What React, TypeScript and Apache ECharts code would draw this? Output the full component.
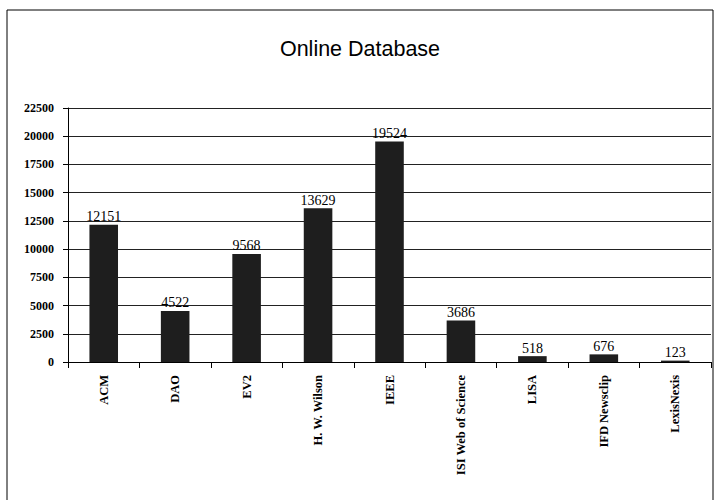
import React, { useEffect, useRef } from "react";
import * as echarts from "echarts";

const categories = ["ACM", "DAO", "EV2", "H. W. Wilson", "IEEE", "ISI Web of Science", "LISA", "IFD Newsclip", "LexisNexis"];
const values = [12151, 4522, 9568, 13629, 19524, 3686, 518, 676, 123];
const titleText = "Online Database";

export default function App() {
  const ref = useRef<HTMLDivElement>(null);
  useEffect(() => {
    const chart = echarts.init(ref.current!, null, { renderer: "svg" });
    chart.setOption({
      animation: false,
      backgroundColor: "#ffffff",
      title: {
        text: titleText,
        left: "center",
        top: 33,
        textStyle: { fontFamily: "Liberation Sans, Arial", fontWeight: "normal", fontSize: 21.5, color: "#000" },
      },
      graphic: [
        {
          type: "rect",
          shape: { x: 7, y: 10, width: 706, height: 500 },
          style: { fill: "none", stroke: "#000", lineWidth: 1 },
          silent: true,
        },
      ],
      grid: { left: 68, right: 9, top: 108, bottom: 138, containLabel: false, show: false },
      xAxis: {
        type: "category",
        data: categories,
        axisLine: { show: true, lineStyle: { color: "#000", width: 1 } },
        axisTick: { show: true, alignWithLabel: false, length: 6, lineStyle: { color: "#000" } },
        axisLabel: {
          rotate: 90,
          interval: 0,
          margin: 13,
          fontFamily: "Liberation Serif, Times New Roman",
          fontWeight: "bold",
          fontSize: 12.5,
          color: "#000",
        },
      },
      yAxis: {
        type: "value",
        min: 0,
        max: 22500,
        interval: 2500,
        axisLine: { show: true, lineStyle: { color: "#000", width: 1 } },
        axisTick: { show: true, length: 5, lineStyle: { color: "#000" } },
        axisLabel: {
          margin: 14,
          formatter: (v: number) => String(v),
          fontFamily: "Liberation Serif, Times New Roman",
          fontWeight: "bold",
          fontSize: 12,
          color: "#000",
        },
        splitLine: { show: true, lineStyle: { color: "#222", width: 1 } },
      },
      series: [
        {
          type: "bar",
          data: values,
          barWidth: "40%",
          itemStyle: { color: "#1e1e1e" },
          label: {
            show: true,
            position: "top",
            distance: 1,
            fontFamily: "Liberation Serif, Times New Roman",
            fontSize: 14,
            color: "#000",
          },
        },
      ],
    });
    return () => chart.dispose();
  }, []);
  return <div ref={ref} style={{ position: "absolute", left: 0, top: 0, width: 720, height: 500 }} />;
}
